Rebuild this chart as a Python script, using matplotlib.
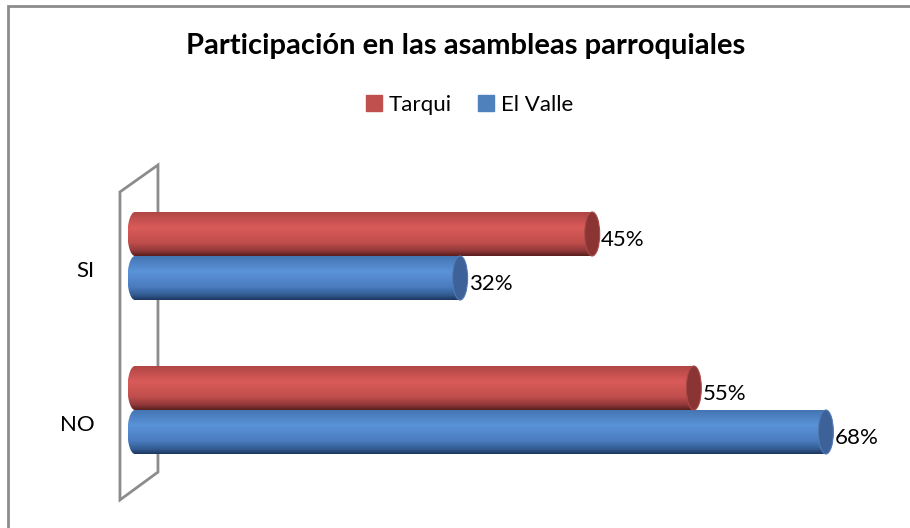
import matplotlib
matplotlib.use("Agg")
import matplotlib.pyplot as plt
import numpy as np
from matplotlib.colors import LinearSegmentedColormap
from matplotlib.patches import Ellipse, PathPatch, Polygon, Rectangle
from matplotlib.path import Path

plt.rcParams['font.family'] = ['Lato', 'DejaVu Sans']

# Datos del gráfico
categorias = ['SI', 'NO']
series = ['Tarqui', 'El Valle']
tarqui = [45, 55]
el_valle = [32, 68]
titulo = 'Participación en las asambleas parroquiales'

# Colores tipo cilindro 3D (Excel)
estilos = {
    'Tarqui': dict(base='#c0504d',
                   cmap=[(0, '#b04644'), (0.35, '#d95b59'), (0.7, '#c04e4c'),
                         (0.88, '#92393a'), (1, '#5a1f1e')],
                   tapa='#8a3533', borde='#a84a48'),
    'El Valle': dict(base='#4f81bd',
                     cmap=[(0, '#4475b4'), (0.35, '#5b93d8'), (0.7, '#4a7cbf'),
                           (0.88, '#345d94'), (1, '#1e3660')],
                     tapa='#3d6199', borde='#5478b0'),
}

fig = plt.figure(figsize=(9.1, 5.28), dpi=100)
px_x = 10.16  # pixeles por punto porcentual
x_min, x_max = -8, 75
ax = fig.add_axes([(135 + x_min * px_x) / 910, 1 - 487 / 528,
                   (x_max - x_min) * px_x / 910, 308 / 528])
ax.axis('off')

alto = 44 / 154       # alto de cada barra en unidades de categoría
rx = 7.5 / px_x       # semieje horizontal de las tapas


def cilindro(y0, v, est):
    cmap = LinearSegmentedColormap.from_list('c', est['cmap'])
    t = np.linspace(0, np.pi, 40)
    verts = list(zip(-rx * np.sin(t), y0 - alto / 2 * np.cos(t)))
    verts += [(v, y0 + alto / 2), (v, y0 - alto / 2), (0, y0 - alto / 2)]
    codes = [Path.MOVETO] + [Path.LINETO] * (len(verts) - 1) + [Path.CLOSEPOLY]
    verts.append((0, 0))
    clip = PathPatch(Path(verts, codes), facecolor='none', edgecolor='none')
    ax.add_patch(clip)
    grad = np.linspace(0, 1, 200).reshape(-1, 1)
    im = ax.imshow(grad, cmap=cmap, extent=[-rx, v, y0 + alto / 2, y0 - alto / 2],
                   aspect='auto', origin='upper', interpolation='bilinear', zorder=3)
    im.set_clip_path(clip)
    ax.add_patch(Ellipse((v, y0), 2 * rx, alto, facecolor=est['tapa'],
                         edgecolor=est['borde'], lw=0.8, zorder=4))
    ax.text(v + rx + 0.1, y0 + 0.04, f'{v}%', ha='left', va='center',
            fontsize=16, color='black', zorder=5)


# Pared lateral (efecto 3D)
pared = Polygon([(-1.48, -0.416), (2.26, -0.591), (2.26, 1.403), (-1.48, 1.584)],
                closed=True, fill=False, edgecolor='#8c8c8c', lw=2, clip_on=False, zorder=1)
ax.add_patch(pared)

for i, cat in enumerate(categorias):
    cilindro(i - alto / 2, tarqui[i], estilos['Tarqui'])
    cilindro(i + alto / 2, el_valle[i], estilos['El Valle'])
    ax.text(-4.0, i + 0.1, cat, ha='right', va='center', fontsize=16, color='black')

ax.set_xlim(x_min, x_max)
ax.set_ylim(1.5, -0.5)

# Título y leyenda
fig.text(0.512, 1 - 46 / 528, titulo, ha='center', va='center',
         fontsize=21, fontweight='bold')
handles = [Rectangle((0, 0), 1, 1, color=estilos[s]['base']) for s in series]
fig.legend(handles, series, loc='center', bbox_to_anchor=(0.516, 1 - 105 / 528),
           ncol=2, frameon=False, fontsize=16, handlelength=0.7, handleheight=0.7,
           handletextpad=0.3, columnspacing=1.2)

# Borde del área del gráfico
fig.add_artist(Rectangle((7.5 / 910, -0.5), 2, 0.5 + 1 - 5.5 / 528, transform=fig.transFigure,
                         fill=False, edgecolor='#8c8c8c', lw=2))

fig.savefig('out.png', dpi=100)
